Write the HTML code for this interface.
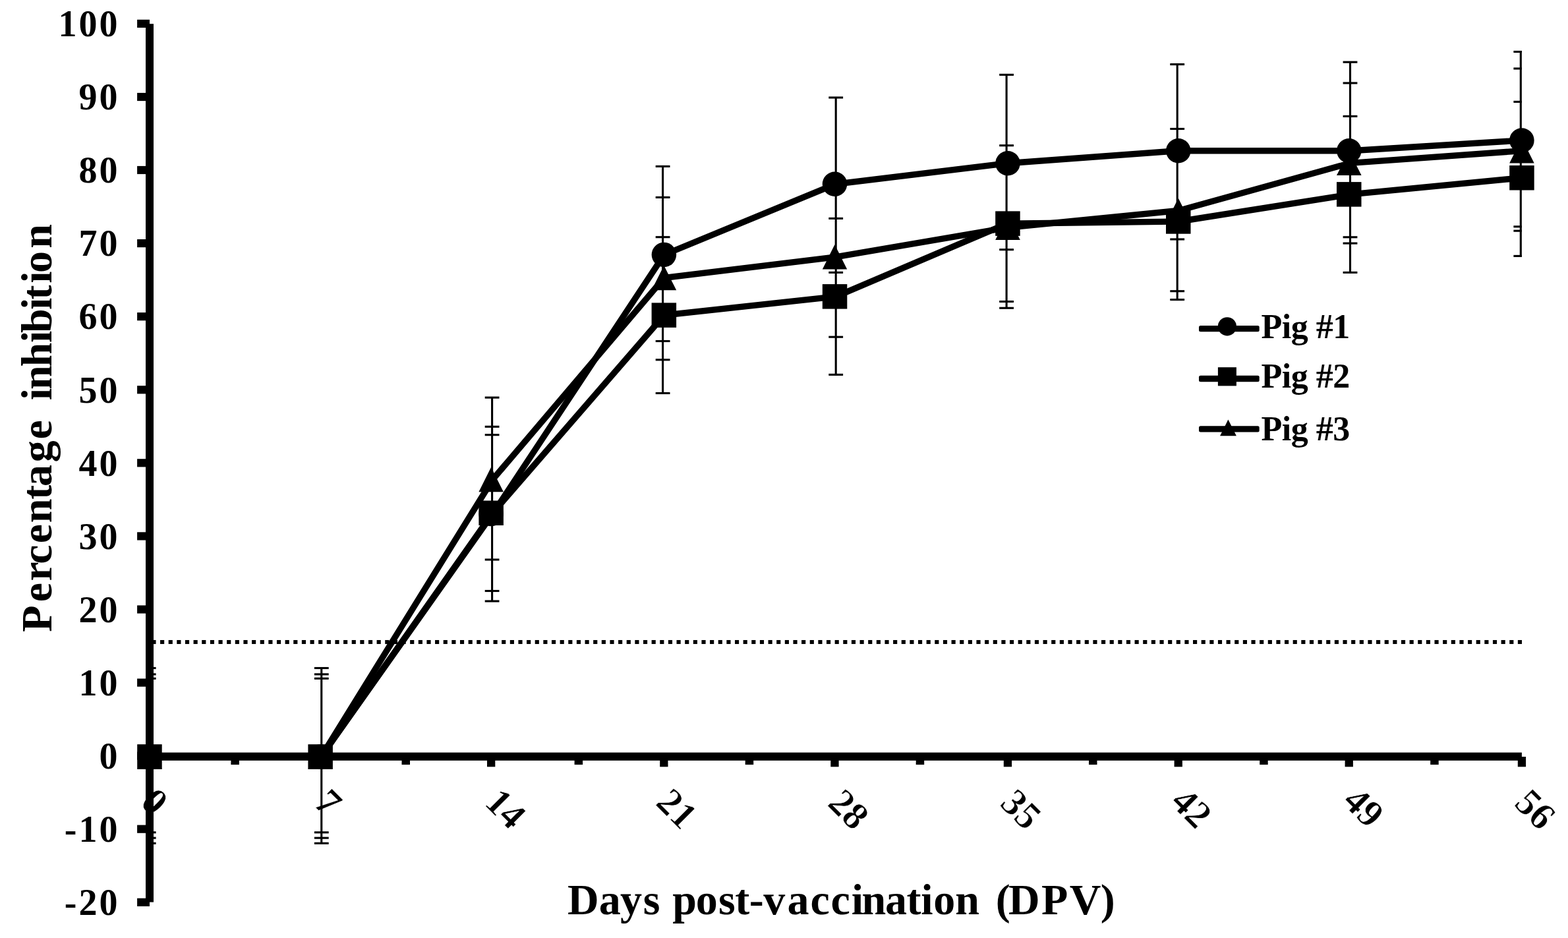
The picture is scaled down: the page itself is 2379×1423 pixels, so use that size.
<!DOCTYPE html>
<html lang="en">
<head>
<meta charset="utf-8">
<title>Percentage inhibition by days post-vaccination</title>
<style>
html,body{margin:0;padding:0;background:#fff}
body{width:2379px;height:1423px;overflow:hidden}
svg{display:block}
text{font-family:"Liberation Serif","DejaVu Serif",serif;font-weight:bold;fill:#000}
#xlabels text{stroke:#fff;stroke-width:0.7px}
</style>
</head>
<body>
<svg width="2379" height="1423" viewBox="0 0 2379 1423" role="img" aria-label="Line chart of percentage inhibition against days post-vaccination for three pigs">
<rect width="2379" height="1423" fill="#fff"/>
<defs><clipPath id="plot"><rect x="221" y="0" width="2088" height="1423"/></clipPath></defs>
<g id="xlabels" font-size="58">
<text transform="translate(224.5,1205.5) rotate(45)" y="19.6">0</text>
<text transform="translate(488.1,1207.0) rotate(45)" y="19.6">7</text>
<text transform="translate(747.1,1206.0) rotate(45)" y="19.6">14</text>
<text transform="translate(1006.9,1206.0) rotate(45)" y="19.6">21</text>
<text transform="translate(1267.5,1207.0) rotate(45)" y="19.6">28</text>
<text transform="translate(1529.0,1207.0) rotate(45)" y="19.6">35</text>
<text transform="translate(1787.8,1205.0) rotate(45)" y="19.6">42</text>
<text transform="translate(2048.8,1204.0) rotate(45)" y="19.6">49</text>
<text transform="translate(2309.4,1207.0) rotate(45)" y="19.6">56</text>
</g>
<g id="axes" fill="#000">
<rect x="221" y="36.2" width="12" height="1332.4"/>
<rect x="208.1" y="29.8" width="18.9" height="12.2"/>
<rect x="208.1" y="140.9" width="18.9" height="12.2"/>
<rect x="208.1" y="251.9" width="18.9" height="12.2"/>
<rect x="208.1" y="363.0" width="18.9" height="12.2"/>
<rect x="208.1" y="474.1" width="18.9" height="12.2"/>
<rect x="208.1" y="585.2" width="18.9" height="12.2"/>
<rect x="208.1" y="696.2" width="18.9" height="12.2"/>
<rect x="208.1" y="807.3" width="18.9" height="12.2"/>
<rect x="208.1" y="918.4" width="18.9" height="12.2"/>
<rect x="208.1" y="1029.5" width="18.9" height="12.2"/>
<rect x="208.1" y="1140.5" width="18.9" height="12.2"/>
<rect x="208.1" y="1251.6" width="18.9" height="12.2"/>
<rect x="208.1" y="1362.7" width="18.9" height="12.2"/>
<rect x="227" y="1141.6" width="2081.9" height="12.2"/>
<rect x="220.8" y="1148" width="12.3" height="15.3"/>
<rect x="480.0" y="1148" width="12.3" height="15.3"/>
<rect x="739.0" y="1148" width="12.3" height="15.3"/>
<rect x="1001.2" y="1148" width="12.3" height="15.3"/>
<rect x="1260.3" y="1148" width="12.3" height="15.3"/>
<rect x="1522.8" y="1148" width="12.3" height="15.3"/>
<rect x="1781.6" y="1148" width="12.3" height="15.3"/>
<rect x="2040.6" y="1148" width="12.3" height="15.3"/>
<rect x="2302.8" y="1148" width="12.3" height="15.3"/>
<rect x="350.4" y="1148" width="12.5" height="12.05"/>
<rect x="609.5" y="1148" width="12.5" height="12.05"/>
<rect x="871.6" y="1148" width="12.5" height="12.05"/>
<rect x="1130.7" y="1148" width="12.5" height="12.05"/>
<rect x="1389.7" y="1148" width="12.5" height="12.05"/>
<rect x="1652.0" y="1148" width="12.5" height="12.05"/>
<rect x="1911.2" y="1148" width="12.5" height="12.05"/>
<rect x="2170.2" y="1148" width="12.5" height="12.05"/>
</g>
<line id="threshold" x1="230.4" y1="974.05" x2="2309" y2="974.05" stroke="#000" stroke-width="6.1" stroke-dasharray="6.15 6.487"/>
<g id="errorbars" clip-path="url(#plot)" fill="#000">
<rect x="224.15" y="1013.5" width="3.1" height="265.8"/>
<rect x="214.8" y="1011.95" width="21.8" height="3.1"/>
<rect x="214.8" y="1021.35" width="21.8" height="3.1"/>
<rect x="214.8" y="1027.75" width="21.8" height="3.1"/>
<rect x="214.8" y="1261.25" width="21.8" height="3.1"/>
<rect x="214.8" y="1269.65" width="21.8" height="3.1"/>
<rect x="214.8" y="1277.75" width="21.8" height="3.1"/>
<rect x="486.20" y="1013.5" width="3.1" height="265.8"/>
<rect x="476.9" y="1011.95" width="21.8" height="3.1"/>
<rect x="476.9" y="1021.35" width="21.8" height="3.1"/>
<rect x="476.9" y="1027.75" width="21.8" height="3.1"/>
<rect x="476.9" y="1261.25" width="21.8" height="3.1"/>
<rect x="476.9" y="1269.65" width="21.8" height="3.1"/>
<rect x="476.9" y="1277.75" width="21.8" height="3.1"/>
<rect x="745.05" y="603.1" width="3.1" height="308.9"/>
<rect x="735.7" y="601.55" width="21.8" height="3.1"/>
<rect x="735.7" y="645.75" width="21.8" height="3.1"/>
<rect x="735.7" y="658.15" width="21.8" height="3.1"/>
<rect x="735.7" y="847.45" width="21.8" height="3.1"/>
<rect x="735.7" y="894.95" width="21.8" height="3.1"/>
<rect x="735.7" y="910.45" width="21.8" height="3.1"/>
<rect x="1004.05" y="252.4" width="3.1" height="344.1"/>
<rect x="994.7" y="250.85" width="21.8" height="3.1"/>
<rect x="994.7" y="297.85" width="21.8" height="3.1"/>
<rect x="994.7" y="358.15" width="21.8" height="3.1"/>
<rect x="994.7" y="515.95" width="21.8" height="3.1"/>
<rect x="994.7" y="544.25" width="21.8" height="3.1"/>
<rect x="994.7" y="594.95" width="21.8" height="3.1"/>
<rect x="1266.65" y="148.0" width="3.1" height="420.4"/>
<rect x="1257.3" y="146.45" width="21.8" height="3.1"/>
<rect x="1257.3" y="329.85" width="21.8" height="3.1"/>
<rect x="1257.3" y="411.85" width="21.8" height="3.1"/>
<rect x="1257.3" y="509.65" width="21.8" height="3.1"/>
<rect x="1257.3" y="566.85" width="21.8" height="3.1"/>
<rect x="1525.55" y="113.4" width="3.1" height="353.9"/>
<rect x="1516.2" y="111.85" width="21.8" height="3.1"/>
<rect x="1516.2" y="219.15" width="21.8" height="3.1"/>
<rect x="1516.2" y="377.15" width="21.8" height="3.1"/>
<rect x="1516.2" y="455.95" width="21.8" height="3.1"/>
<rect x="1516.2" y="465.75" width="21.8" height="3.1"/>
<rect x="1784.65" y="97.6" width="3.1" height="357.0"/>
<rect x="1775.3" y="96.05" width="21.8" height="3.1"/>
<rect x="1775.3" y="193.95" width="21.8" height="3.1"/>
<rect x="1775.3" y="361.45" width="21.8" height="3.1"/>
<rect x="1775.3" y="440.15" width="21.8" height="3.1"/>
<rect x="1775.3" y="453.05" width="21.8" height="3.1"/>
<rect x="2046.95" y="94.2" width="3.1" height="319.2"/>
<rect x="2037.6" y="92.65" width="21.8" height="3.1"/>
<rect x="2037.6" y="124.45" width="21.8" height="3.1"/>
<rect x="2037.6" y="174.85" width="21.8" height="3.1"/>
<rect x="2037.6" y="358.25" width="21.8" height="3.1"/>
<rect x="2037.6" y="367.55" width="21.8" height="3.1"/>
<rect x="2037.6" y="411.85" width="21.8" height="3.1"/>
<rect x="2305.75" y="78.5" width="3.1" height="309.9"/>
<rect x="2296.4" y="76.95" width="21.8" height="3.1"/>
<rect x="2296.4" y="102.45" width="21.8" height="3.1"/>
<rect x="2296.4" y="152.85" width="21.8" height="3.1"/>
<rect x="2296.4" y="342.25" width="21.8" height="3.1"/>
<rect x="2296.4" y="348.65" width="21.8" height="3.1"/>
<rect x="2296.4" y="386.85" width="21.8" height="3.1"/>
</g>
<g id="lines" fill="none" stroke="#000" stroke-width="9.4" stroke-linejoin="round" stroke-linecap="round">
<polyline points="227.0,1147.9 487.2,1147.9 747.5,779.6 1007.7,386.4 1268.0,279.2 1528.2,247.7 1788.4,228.7 2048.7,228.8 2308.9,213.0"/>
<polyline points="227.0,1147.9 487.2,1147.9 747.5,778.2 1007.7,478.2 1268.0,449.9 1528.2,339.2 1788.4,336.0 2048.7,294.9 2308.9,269.8"/>
<polyline points="227.0,1147.9 487.2,1147.9 747.5,727.5 1007.7,421.5 1268.0,389.9 1528.2,345.3 1788.4,319.5 2048.7,247.4 2308.9,228.7"/>
</g>
<g id="markers" fill="#000">
<circle cx="227.0" cy="1147.9" r="18.75"/>
<circle cx="486.1" cy="1147.9" r="18.75"/>
<circle cx="745.1" cy="779.6" r="18.75"/>
<circle cx="1007.4" cy="386.4" r="18.75"/>
<circle cx="1266.5" cy="279.2" r="18.75"/>
<circle cx="1529.0" cy="247.7" r="18.75"/>
<circle cx="1787.8" cy="228.7" r="18.75"/>
<circle cx="2046.8" cy="228.8" r="18.75"/>
<circle cx="2308.9" cy="213.0" r="18.75"/>
<polygon points="227.0,1129.2 245.8,1166.7 208.2,1166.7"/>
<polygon points="486.1,1129.2 504.9,1166.7 467.4,1166.7"/>
<polygon points="745.1,708.8 763.9,746.2 726.4,746.2"/>
<polygon points="1007.4,402.8 1026.2,440.2 988.6,440.2"/>
<polygon points="1266.5,371.1 1285.2,408.6 1247.8,408.6"/>
<polygon points="1529.0,326.6 1547.8,364.1 1510.2,364.1"/>
<polygon points="1787.8,300.8 1806.5,338.2 1769.0,338.2"/>
<polygon points="2046.8,228.7 2065.6,266.1 2028.0,266.1"/>
<polygon points="2308.9,209.9 2327.7,247.4 2290.2,247.4"/>
<rect x="208.2" y="1129.2" width="37.5" height="37.5"/>
<rect x="467.4" y="1129.2" width="37.5" height="37.5"/>
<rect x="726.4" y="759.5" width="37.5" height="37.5"/>
<rect x="988.6" y="459.4" width="37.5" height="37.5"/>
<rect x="1247.8" y="431.1" width="37.5" height="37.5"/>
<rect x="1510.2" y="320.4" width="37.5" height="37.5"/>
<rect x="1769.0" y="317.2" width="37.5" height="37.5"/>
<rect x="2028.0" y="276.1" width="37.5" height="37.5"/>
<rect x="2290.2" y="251.0" width="37.5" height="37.5"/>
</g>
<g id="legend">
<rect x="1819" y="493.95" width="91.7" height="9.3" rx="2.5"/>
<circle cx="1861.9" cy="495.3" r="14.1"/>
<text x="1913.6" y="512.7" font-size="52" letter-spacing="-0.5">Pig #1</text>
<rect x="1819" y="569.85" width="91.7" height="9.3" rx="2.5"/>
<rect x="1847.9" y="557.2" width="28" height="28.2"/>
<text x="1913.6" y="588.3" font-size="52" letter-spacing="-0.5">Pig #2</text>
<rect x="1819" y="646.25" width="91.7" height="9.3" rx="2.5"/>
<polygon points="1863.4,636.4 1875.9,661.2 1851.1,661.2"/>
<text x="1913.6" y="667.5" font-size="52" letter-spacing="-0.5">Pig #3</text>
</g>
<g id="ylabels" font-size="56" text-anchor="end" letter-spacing="3.0">
<text x="181.5" y="55.1">100</text>
<text x="181.5" y="166.2">90</text>
<text x="181.5" y="277.3">80</text>
<text x="181.5" y="388.4">70</text>
<text x="181.5" y="499.4">60</text>
<text x="181.5" y="610.5">50</text>
<text x="181.5" y="721.6">40</text>
<text x="181.5" y="832.7">30</text>
<text x="181.5" y="943.7">20</text>
<text x="181.5" y="1054.8">10</text>
<text x="181.5" y="1165.9">0</text>
<text x="181.5" y="1277.0">-10</text>
<text x="181.5" y="1388.0">-20</text>
</g>
<text id="xtitle" x="859.9" y="1387" font-size="66" letter-spacing="0.7" dx="1 -0.5 -1.5 1 0 1 -2 0.5 -1 -1.2 -1.2 2.5 1.3 1 1.4 -3.5 -1.8 -1.2 -1 0 -0.8 0 7 -3.5 1.6 1.7 -1.3">Days post-vaccination (DPV)</text>
<text id="ytitle" transform="translate(78.3,959.4) rotate(-90)" font-size="66" letter-spacing="0.75" dx="0.7 4.5 1.5 -3 1.5 1 -2 -3 3 1 0 12 -3 -3 -1 -4 -2.5 -3.5 2 -3.5 3.7">Percentage inhibition</text>
</svg>
</body>
</html>
